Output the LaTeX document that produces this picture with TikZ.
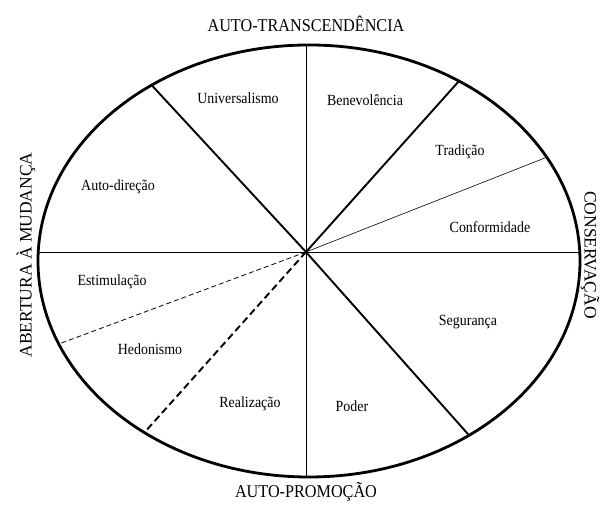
\documentclass[tikz,border=0pt]{standalone}
\usepackage{fontspec}
\setmainfont{Liberation Serif}
\newfontfamily\rotulo{Liberation Serif}[FakeStretch=0.9]
\usetikzlibrary{calc}

\begin{document}
\begin{tikzpicture}[x=1pt, y=1pt,
    borda/.style={line width=2.8pt},
    forte/.style={line width=1.9pt},
    fina/.style={line width=0.8pt},
    valor/.style={font=\rotulo\fontsize{15.5}{18}\selectfont, inner sep=0pt},
    polo/.style={font=\rotulo\fontsize{18}{20}\selectfont, inner sep=0pt},
    lado/.style={font=\fontsize{17.5}{20}\selectfont, inner sep=0pt}
  ]
  \useasboundingbox (0,0) rectangle (600,505);

  % ellipse and centre of the divisions
  \coordinate (e) at (309,244);
  \coordinate (c) at (306,253);
  \draw[borda] (e) ellipse [x radius=271pt, y radius=216pt];

  % points on the rim
  \coordinate (hW) at ($(e)+(177.6:271pt and 216pt)$);
  \coordinate (hE) at ($(e)+(2.4:271pt and 216pt)$);
  \coordinate (vN) at ($(e)+(90.63:271pt and 216pt)$);
  \coordinate (vS) at ($(e)+(269.37:271pt and 216pt)$);
  \coordinate (ul) at ($(e)+(125.5:271pt and 216pt)$);
  \coordinate (ur) at ($(e)+(56.4:271pt and 216pt)$);
  \coordinate (tr) at ($(e)+(28.7:271pt and 216pt)$);
  \coordinate (lr) at ($(e)+(-53.8:271pt and 216pt)$);
  \coordinate (ll) at ($(e)+(232.6:271pt and 216pt)$);
  \coordinate (wl) at ($(e)+(202.6:271pt and 216pt)$);

  \draw[fina] (hW) -- (hE);
  \draw[fina] (vN) -- (vS);
  \draw[forte] (c) -- (ul);
  \draw[forte] (c) -- (ur);
  \draw[forte] (c) -- (lr);
  \draw[line width=0.6pt] (c) -- (tr);
  \draw[fina, dash pattern=on 5pt off 3pt] (c) -- (wl);
  \draw[forte, dash pattern=on 7pt off 4pt] (c) -- (ll);

  % values
  \node[valor] (univ) at (238,407) {Universalismo};
  \node[valor] (bene) at (365,405) {Benevolência};
  \node[valor] (trad) at (460,353) {Tradição};
  \node[valor] (conf) at (490,278) {Conformidade};
  \node[valor] (autod) at (118,318) {Auto-direção};
  \node[valor] (estim) at (112,223) {Estimulação};
  \node[valor] (segur) at (468,183) {Segurança};
  \node[valor] (hedon) at (150,156) {Hedonismo};
  \node[valor] (realiz) at (250,101) {Realização};
  \node[valor] (poder) at (352,99) {Poder};

  % higher order dimensions
  \node[polo] (transc) at (306,481) {AUTO-TRANSCENDÊNCIA};
  \node[polo] (promo) at (306,13) {AUTO-PROMOÇÃO};
  \node[lado, rotate=90] (abert) at (26,250) {ABERTURA À MUDANÇA};
  \node[lado, rotate=-90] (conserv) at (590,250) {CONSERVAÇÃO};
\end{tikzpicture}
\end{document}
